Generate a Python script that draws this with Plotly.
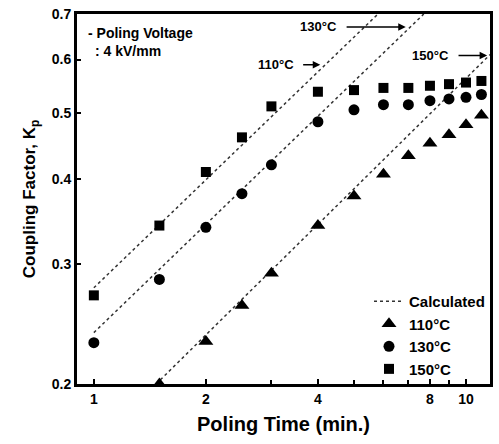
import plotly.graph_objects as go
import numpy as np

# ---- data ----
poling_time = [1, 1.5, 2, 2.5, 3, 4, 5, 6, 7, 8, 9, 10, 11]
kp_square = [0.270, 0.342, 0.410, 0.461, 0.512, 0.538, 0.541, 0.545, 0.545, 0.549, 0.552, 0.555, 0.558]
kp_circle = [0.230, 0.285, 0.340, 0.381, 0.420, 0.486, 0.506, 0.515, 0.515, 0.522, 0.525, 0.528, 0.533]
tri_time = [1.5, 2, 2.5, 3, 4, 5, 6, 7, 8, 9, 10, 11]
kp_triangle = [0.200, 0.231, 0.261, 0.291, 0.342, 0.378, 0.407, 0.433, 0.452, 0.465, 0.481, 0.497]

calc_a_x = [1, 5.8]
calc_a_y = [0.277, 0.70]
calc_b_x = [1, 7.7]
calc_b_y = [0.238, 0.70]
calc_c_x = [1.47, 11.6]
calc_c_y = [0.200, 0.61]

x_tickvals = [1, 2, 4, 8, 10]
x_minor = [3, 5, 6, 7, 9]
y_tickvals = [0.2, 0.3, 0.4, 0.5, 0.6, 0.7]

FONT = "Liberation Sans, Arial, sans-serif"
dot_line = dict(color="#333333", width=1.5, dash="dot")

fig = go.Figure()
fig.add_trace(go.Scatter(x=calc_a_x, y=calc_a_y, mode="lines", line=dot_line,
                         name="Calculated", showlegend=True))
fig.add_trace(go.Scatter(x=calc_b_x, y=calc_b_y, mode="lines", line=dot_line, showlegend=False))
fig.add_trace(go.Scatter(x=calc_c_x, y=calc_c_y, mode="lines", line=dot_line, showlegend=False))
fig.add_trace(go.Scatter(x=tri_time, y=kp_triangle, mode="markers", name="110°C",
                         marker=dict(symbol="triangle-up", size=13, color="black")))
fig.add_trace(go.Scatter(x=poling_time, y=kp_circle, mode="markers", name="130°C",
                         marker=dict(symbol="circle", size=11, color="black")))
fig.add_trace(go.Scatter(x=poling_time, y=kp_square, mode="markers", name="150°C",
                         marker=dict(symbol="square", size=10, color="black")))

fig.update_xaxes(type="log", range=[np.log10(0.901), np.log10(11.6)],
                 tickvals=x_tickvals, ticktext=[str(v) for v in x_tickvals],
                 ticks="inside", ticklen=5, tickwidth=2, tickcolor="black",
                 minor=dict(tickvals=x_minor, ticks="inside", ticklen=4, tickwidth=2, tickcolor="black"),
                 showline=True, linewidth=3, linecolor="black", mirror=True,
                 showgrid=False, zeroline=False,
                 tickfont=dict(size=14, family=FONT, weight="bold", color="black"),
                 title=dict(text="Poling Time (min.)", standoff=12,
                            font=dict(size=20, family=FONT, weight="bold", color="black")))
fig.update_yaxes(type="log", range=[np.log10(0.2), np.log10(0.7)],
                 tickvals=y_tickvals, ticktext=[f"{v:.1f}" for v in y_tickvals],
                 ticks="inside", ticklen=4, tickwidth=2, tickcolor="black",
                 showline=True, linewidth=3, linecolor="black", mirror=True,
                 showgrid=False, zeroline=False,
                 tickfont=dict(size=14, family=FONT, weight="bold", color="black"),
                 title=dict(text="Coupling Factor, K<sub>p</sub>", standoff=12,
                            font=dict(size=17, family=FONT, weight="bold", color="black")))

annos = [
    dict(x=0.0216, y=0.949, text="- Poling Voltage"),
    dict(x=0.038, y=0.899, text=": 4 kV/mm"),
]
for a in annos:
    fig.add_annotation(x=a["x"], y=a["y"], xref="x domain", yref="y domain", text=a["text"],
                       showarrow=False, xanchor="left", yanchor="middle",
                       font=dict(size=14, family=FONT, weight="bold", color="black"))

# labelled arrows: (text, text centre x, arrow head x, y)
arrows = [("130°C", 0.585, 0.796, 0.965), ("110°C", 0.481, 0.589, 0.863),
          ("150°C", 0.856, 0.993, 0.888)]
for txt, tx, hx, yy in arrows:
    fig.add_annotation(x=hx, y=yy, ax=tx, ay=yy, xref="x domain", yref="y domain",
                       axref="x domain", ayref="y domain", text=txt, showarrow=True,
                       arrowhead=2, arrowsize=1, arrowwidth=1.5, arrowcolor="black",
                       startstandoff=8,
                       font=dict(size=13, family=FONT, weight="bold", color="black"))

fig.update_layout(
    width=499, height=444,
    margin=dict(l=77, r=6, t=9, b=60),
    paper_bgcolor="white", plot_bgcolor="white",
    font=dict(family=FONT, weight="bold", color="black"),
    legend=dict(x=1.0, xanchor="right", y=-0.003, yanchor="bottom",
                bgcolor="rgba(0,0,0,0)", borderwidth=0,
                font=dict(size=15, family=FONT, weight="bold", color="black"),
                itemwidth=30, tracegroupgap=0),
)
fig.write_html("out.html", config={"displayModeBar": False},
               post_script="document.body.style.margin='0';document.body.style.overflow='hidden';")
